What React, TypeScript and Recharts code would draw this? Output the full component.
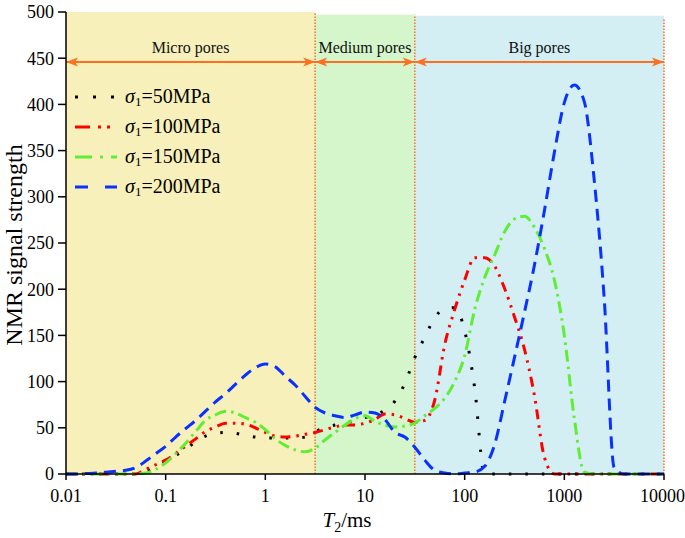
import { LineChart, Line, XAxis, YAxis, ReferenceArea, ReferenceLine, Legend } from 'recharts';

const SERIF = "'Liberation Serif', 'Times New Roman', serif";
const ORANGE = '#ff6f1f';

// T2 grid (ms), log spaced
const t2 = [
  0.01, 0.0126, 0.0158, 0.02, 0.0251, 0.0316, 0.0398, 0.0501, 0.0631, 0.0794,
  0.1, 0.126, 0.158, 0.2, 0.251, 0.316, 0.398, 0.501, 0.631, 0.794,
  1, 1.26, 1.58, 2, 2.51, 3.16, 3.98, 5.01, 6.31, 7.94,
  10, 12.6, 15.8, 20, 25.1, 31.6, 39.8, 50.1, 63.1, 79.4,
  100, 126, 158, 200, 251, 316, 398, 501, 631, 794,
  1000, 1259, 1585, 1995, 2512, 3162, 3981, 5012, 6310, 7943, 10000,
];

const s50 = [
  0, 0, 0, 0, 0, 0, 0, 0, 2, 8,
  14, 20, 27, 35, 41, 44, 45, 44, 42, 40,
  39, 39, 39, 39, 40, 46, 50, 53, 55, 58,
  61, 64, 69, 79, 98, 126, 148, 169, 179, 180,
  155, 93, 0, 0, 0, 0, 0, 0, 0, 0,
  0, 0, 0, 0, 0, 0, 0, 0, 0, 0, 0,
];

const s100 = [
  0, 0, 0, 0, 0, 0, 0, 0, 5, 10,
  15, 22, 30, 38, 46, 51, 55, 55, 54, 50,
  45, 41, 40, 41, 43, 45, 48, 51, 53, 53,
  55, 59, 65, 64, 60, 56, 58, 80, 140, 178,
  210, 234, 234, 225, 201, 170, 135, 85, 18, 0,
  0, 0, 0, 0, 0, 0, 0, 0, 0, 0, 0,
];

const s150 = [
  0, 0, 0, 0, 0, 0, 0, 0, 1, 5,
  12, 22, 33, 46, 58, 64, 68, 66, 61, 56,
  48, 38, 31, 26, 24, 28, 37, 45, 53, 60,
  63, 57, 53, 51, 52, 55, 63, 71, 82, 100,
  128, 178, 212, 237, 262, 276, 279, 267, 244, 210,
  150, 60, 2, 0, 0, 0, 0, 0, 0, 0, 0,
];

const s200 = [
  0, 0, 0.5, 1, 2, 3, 4, 7, 14, 22,
  30, 40, 49, 58, 68, 78, 87, 97, 107, 115,
  119, 116, 106, 96, 84, 72, 66, 63, 61, 64,
  67, 66, 59, 45, 40, 29, 15, 4, 1, 0,
  1, 2, 8, 32, 78, 126, 175, 226, 285, 348,
  402, 421, 403, 318, 190, 7, 0, 0, 0, 0, 0,
];

const xTicks = [0.01, 0.1, 1, 10, 100, 1000, 10000];
const yTicks = [0, 50, 100, 150, 200, 250, 300, 350, 400, 450, 500];

const poreBounds = [0.01, 3.16, 31.6, 10000];
const poreNames = ['Micro pores', 'Medium pores', 'Big pores'];
const poreTops = [500, 497, 496];
const poreFills = ['#f8f0bb', '#d5f5cb', '#d4eff3'];
const arrowY = 446;

const series = [
  { key: 's50', stress: '50MPa', color: '#000000', dash: '2.5 14', legendDash: '3 15' },
  { key: 's100', stress: '100MPa', color: '#ff0000', dash: '10 6 2.5 6 2.5 6', legendDash: '15 8 3 6 3 40' },
  { key: 's150', stress: '150MPa', color: '#5fee33', dash: '12 5 2.5 5', legendDash: '17 8 3 8 40' },
  { key: 's200', stress: '200MPa', color: '#0a32ff', dash: '12 7', legendDash: '13 17 12' },
];

const data = t2.map((t, i) => ({ t2: t, s50: s50[i], s100: s100[i], s150: s150[i], s200: s200[i] }));

const arrowShape = (label: string) => (p: any) => {
  const { x1, x2, y1 } = p;
  const h = 12;
  const w = 4.5;
  return (
    <g>
      <line x1={x1} y1={y1} x2={x2} y2={y1} stroke={ORANGE} strokeWidth={2} />
      <polygon points={`${x1},${y1} ${x1 + h},${y1 - w} ${x1 + h - 3},${y1} ${x1 + h},${y1 + w}`} fill={ORANGE} />
      <polygon points={`${x2},${y1} ${x2 - h},${y1 - w} ${x2 - h + 3},${y1} ${x2 - h},${y1 + w}`} fill={ORANGE} />
      <text x={(x1 + x2) / 2} y={y1 - 9} textAnchor="middle" fontSize={16} fontFamily={SERIF} fill="#111">
        {label}
      </text>
    </g>
  );
};

const renderLegend = () => (
  <div style={{ fontFamily: SERIF, fontSize: 20, color: '#000' }}>
    {series.map((s) => (
      <div key={s.key} style={{ display: 'flex', alignItems: 'center', height: 30 }}>
        <svg width={46} height={10}>
          <line x1={3} y1={5} x2={45} y2={5} stroke={s.color} strokeWidth={3} strokeDasharray={s.legendDash} />
        </svg>
        <span style={{ marginLeft: 7, whiteSpace: 'nowrap' }}>
          <i>σ</i>
          <sub style={{ fontSize: 13, verticalAlign: -3 }}>1</sub>={s.stress}
        </span>
      </div>
    ))}
  </div>
);

const renderYLabel = (props: any) => {
  const vb = props.viewBox || {};
  const cy = (vb.y ?? 12) + (vb.height ?? 462) / 2 + 2;
  return (
    <text x={22} y={cy} transform={`rotate(-90, 22, ${cy})`} textAnchor="middle" fontSize={24} fontFamily={SERIF} fill="#000">
      NMR signal strength
    </text>
  );
};

const renderXLabel = () => (
  <text x={347} y={527} textAnchor="middle" fontSize={21} fontFamily={SERIF} fill="#000">
    <tspan fontStyle="italic">T</tspan>
    <tspan fontSize={14} dy={5}>2</tspan>
    <tspan dy={-5}>/ms</tspan>
  </text>
);

export default function App() {
  return (
    <div style={{ position: 'absolute', left: 0, top: 0, width: 685, height: 538, background: '#fff' }}>
      <LineChart width={685} height={538} data={data} margin={{ top: 12, right: 21, bottom: 0, left: 0 }}>
        {poreNames.map((name, i) => (
          <ReferenceArea
            key={name}
            x1={poreBounds[i]}
            x2={poreBounds[i + 1]}
            y1={0}
            y2={poreTops[i]}
            fill={poreFills[i]}
            fillOpacity={1}
            stroke="none"
          />
        ))}
        {poreBounds.slice(1).map((b, i) => (
          <ReferenceLine
            key={`div-${b}`}
            segment={[{ x: b, y: 0 }, { x: b, y: poreTops[i] - (i === 2 ? 3 : 0) }]}
            stroke={ORANGE}
            strokeWidth={1.5}
            strokeDasharray="1.5 1.5"
          />
        ))}
        {poreNames.map((name, i) => (
          <ReferenceLine
            key={`arrow-${name}`}
            segment={[{ x: poreBounds[i], y: arrowY }, { x: poreBounds[i + 1], y: arrowY }]}
            shape={arrowShape(name)}
          />
        ))}
        <XAxis
          dataKey="t2"
          type="number"
          scale="log"
          domain={[0.01, 10000]}
          ticks={xTicks}
          allowDataOverflow
          tickFormatter={(v) => String(v)}
          height={64}
          tick={{ fill: '#000', fontSize: 18, fontFamily: SERIF }}
          tickSize={6}
          tickMargin={9}
          axisLine={{ stroke: '#000', strokeWidth: 1.5 }}
          tickLine={{ stroke: '#000', strokeWidth: 1.5 }}
          label={{ content: renderXLabel }}
        />
        <YAxis
          type="number"
          domain={[0, 500]}
          ticks={yTicks}
          width={66}
          tick={{ fill: '#000', fontSize: 18, fontFamily: SERIF }}
          tickSize={8}
          tickMargin={4}
          axisLine={{ stroke: '#000', strokeWidth: 1.5 }}
          tickLine={{ stroke: '#000', strokeWidth: 1.5 }}
          label={{ content: renderYLabel }}
        />
        <Legend
          layout="vertical"
          align="center"
          verticalAlign="middle"
          wrapperStyle={{ left: 72, top: 82, width: 200 }}
          content={renderLegend}
        />
        {series.map((s) => (
          <Line
            key={s.key}
            type="monotone"
            dataKey={s.key}
            stroke={s.color}
            strokeWidth={3}
            strokeDasharray={s.dash}
            dot={false}
            activeDot={false}
            isAnimationActive={false}
          />
        ))}
      </LineChart>
    </div>
  );
}
